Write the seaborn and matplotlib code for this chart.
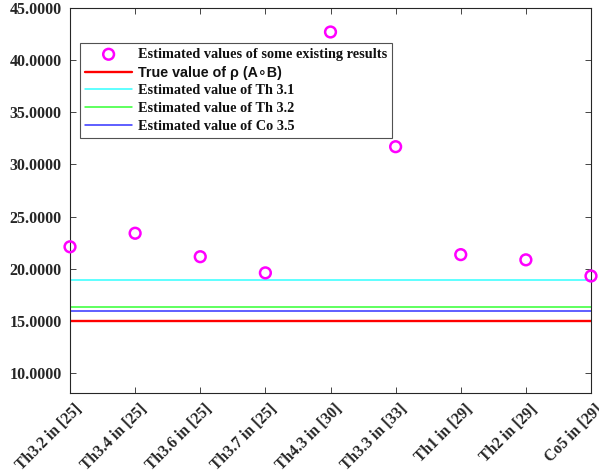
import matplotlib
matplotlib.use("Agg")
import matplotlib.pyplot as plt
import matplotlib.transforms as mtransforms
import seaborn as sns
import pandas as pd
import numpy as np

categories = ["Th3.2 in [25]", "Th3.4 in [25]", "Th3.6 in [25]", "Th3.7 in [25]",
              "Th4.3 in [30]", "Th3.3 in [33]", "Th1 in [29]", "Th2 in [29]", "Co5 in [29]"]
existing_values = [22.1, 23.4, 21.15, 19.6, 42.7, 31.7, 21.35, 20.85, 19.3]
true_value = 15.03
th31_value = 18.87
th32_value = 16.35
co35_value = 15.9
yticks = [10, 15, 20, 25, 30, 35, 40, 45]

sns.set_theme(style="white")
plt.rcParams['font.family'] = ['Liberation Serif', 'DejaVu Serif']

fig = plt.figure(figsize=(5.99, 4.76), dpi=100)
ax = fig.add_axes([70/599, 83/476, 521/599, 385/476])

df = pd.DataFrame({"x": np.arange(len(categories)), "y": existing_values})
sns.scatterplot(data=df, x="x", y="y", ax=ax, marker="o", s=60,
                facecolor="none", edgecolor="#ff00ff", linewidth=1.8,
                label="Estimated values of some existing results", clip_on=False, zorder=5)

ax.axhline(true_value, color="#ff0000", lw=1.7, label="True value of ρ (A∘B)")
ax.axhline(th31_value, color="#33ffff", lw=1.1, label="Estimated value of Th 3.1")
ax.axhline(th32_value, color="#33ff33", lw=1.1, label="Estimated value of Th 3.2")
ax.axhline(co35_value, color="#3333ff", lw=1.1, label="Estimated value of Co 3.5")

ax.set_xlim(0, len(categories) - 1)
ax.set_ylim(8.08, 45.0)
ax.set_xticks(np.arange(len(categories)))
ax.set_xticklabels(categories, rotation=45, ha="right", rotation_mode="anchor",
                   fontsize=11.3, fontweight="bold")
ax.set_yticks(yticks)
ax.set_yticklabels([f"{v:.4f}" for v in yticks], fontsize=11.5, fontweight="bold")
ax.set_xlabel("")
ax.set_ylabel("")
ax.tick_params(direction="in", length=4, width=0.6, top=True, right=True,
               bottom=True, left=True, colors="#262626")
ax.tick_params(axis="x", pad=6)
ax.tick_params(axis="y", pad=6)
offset = mtransforms.ScaledTranslation(4/100, 0, fig.dpi_scale_trans)
for lab in ax.get_xticklabels():
    lab.set_transform(lab.get_transform() + offset)
for lab in ax.get_xticklabels() + ax.get_yticklabels():
    lab.set_color("#262626")
for sp in ax.spines.values():
    sp.set_color("#262626")
    sp.set_linewidth(0.8)

leg = ax.legend(loc="upper left", bbox_to_anchor=(10/521, (393-43)/385), borderaxespad=0,
                frameon=True, fancybox=False, prop={"size": 10.3, "weight": "bold"},
                handlelength=3.3, handletextpad=0.4, labelspacing=0.33, borderpad=0.35)
leg.get_frame().set_edgecolor("#262626")
leg.get_frame().set_linewidth(0.8)
for t in leg.get_texts():
    t.set_color("#111111")
    if "True" in t.get_text():
        t.set_fontfamily(["Liberation Sans", "DejaVu Sans"])

fig.savefig("out.png", dpi=100)
